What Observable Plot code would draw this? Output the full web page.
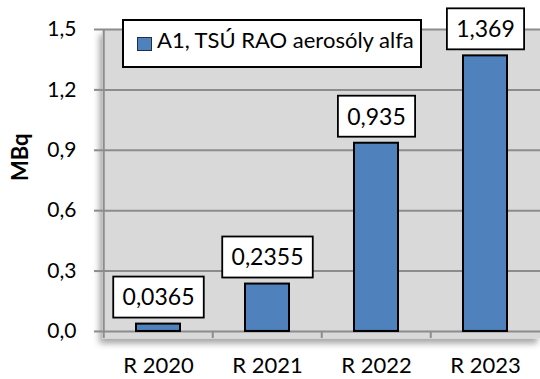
<!DOCTYPE html>
<html>
<head>
<meta charset="utf-8">
<script src="https://cdn.jsdelivr.net/npm/d3@7"></script>
<script src="https://cdn.jsdelivr.net/npm/@observablehq/plot@0.6"></script>
<style>
  body { margin: 0; background: #fff; font-family: Lato, sans-serif; }
  #chart { position: relative; width: 540px; height: 379px; }
  #legend {
    position: absolute; left: 122px; top: 19px; width: 300px; height: 49px;
    box-sizing: border-box; border: 2px solid #000; background: #fff;
    font-size: 22px; color: #000; white-space: nowrap;
  }
  #legend .sw {
    position: absolute; left: 13px; top: 16px; width: 13px; height: 12px;
    border: 1px solid #1f2f4a;
  }
  #legend .lbl { position: absolute; left: 33px; top: 5px; line-height: 28px; }
</style>
</head>
<body>
<div id="chart">
  <div id="legend"><span class="sw"></span><span class="lbl"></span></div>
</div>
<script>
// Annual activity released (MBq)
const years = ["R 2020", "R 2021", "R 2022", "R 2023"];
const activity = [0.0365, 0.2355, 0.935, 1.369];
const yTicks = [0, 0.3, 0.6, 0.9, 1.2, 1.5];
const seriesName = "A1, TSÚ RAO aerosóly alfa";
const unitLabel = "MBq";

const barColor = "#4f81bd";
const plotFill = "#d9d9d9";
const gridColor = "#8c8c8c";

const W = 540, H = 379;
const mL = 102, mR = 0, mT = 29, mB = 41;
const step = (W - mL - mR) / years.length;

const comma = v => String(v).replace(".", ",");
const data = years.map((year, i) => ({year, value: activity[i]}));

const chart = Plot.plot({
  width: W, height: H,
  marginLeft: mL, marginRight: mR, marginTop: mT, marginBottom: mB,
  style: {fontFamily: "Lato, sans-serif", color: "#000", background: "transparent", overflow: "visible"},
  x: {domain: years, paddingInner: 0.6, paddingOuter: 0.3},
  y: {domain: [-0.035, 1.5]},
  marks: [
    Plot.frame({fill: plotFill, stroke: "none"}),
    Plot.gridY(yTicks, {stroke: gridColor, strokeOpacity: 1, strokeWidth: 2}),
    Plot.ruleX([years[0]], {dx: -step / 2, y1: -0.035, y2: 1.5, stroke: gridColor, strokeWidth: 2}),
    Plot.ruleX(years.slice(1), {dx: -step / 2, y1: -0.035, y2: 0, stroke: gridColor, strokeWidth: 2}),
    Plot.axisY(yTicks, {
      tickSize: 8, tickPadding: 18, stroke: gridColor, strokeWidth: 2, fill: "#000",
      fontSize: 21, label: null,
      tickFormat: d => d3.format(".1f")(d).replace(".", ",")
    }),
    Plot.axisX({tickSize: 0, tickPadding: 19, fontSize: 22, fill: "#000", label: null}),
    Plot.barY(data, {x: "year", y: "value", fill: barColor, stroke: "#000", strokeWidth: 2}),
    Plot.text(data, {x: "year", y: "value", text: d => comma(d.value), dy: -26, fontSize: 23, fill: "#000"}),
    Plot.text([unitLabel], {frameAnchor: "left", rotate: -90, dx: -82, dy: -3, fontSize: 22, fontWeight: "bold", fill: "#000"})
  ]
});

const container = document.getElementById("chart");
container.insertBefore(chart, container.firstChild);

const svg = d3.select(chart);

// soft shadow under the plot area
const defs = svg.insert("defs", ":first-child");
const f = defs.append("filter").attr("id", "plotShadow")
  .attr("x", "-5%").attr("y", "-5%").attr("width", "110%").attr("height", "115%");
f.append("feDropShadow").attr("dx", -3).attr("dy", 5).attr("stdDeviation", 3)
  .attr("flood-color", "#000").attr("flood-opacity", 0.35);
svg.selectAll("rect")
  .filter(function () { return this.getAttribute("fill") === plotFill; })
  .attr("filter", "url(#plotShadow)");

// white boxes behind the value labels
const labelSet = new Set(data.map(d => comma(d.value)));
svg.selectAll("text")
  .filter(function () { return labelSet.has(this.textContent); })
  .each(function () {
    const b = this.getBBox();
    const pad = 9.3, h = 41;
    const cy = b.y + b.height / 2 + 0.6;
    d3.select(this.parentNode)
      .insert("rect", () => this)
      .attr("transform", this.getAttribute("transform"))
      .attr("x", b.x - pad).attr("y", cy - h / 2)
      .attr("width", b.width + 2 * pad).attr("height", h)
      .attr("fill", "#fff").attr("stroke", "#000").attr("stroke-width", 1.8);
  });

// legend
d3.select("#legend .sw").style("background", barColor);
d3.select("#legend .lbl").text(seriesName);
</script>
</body>
</html>
